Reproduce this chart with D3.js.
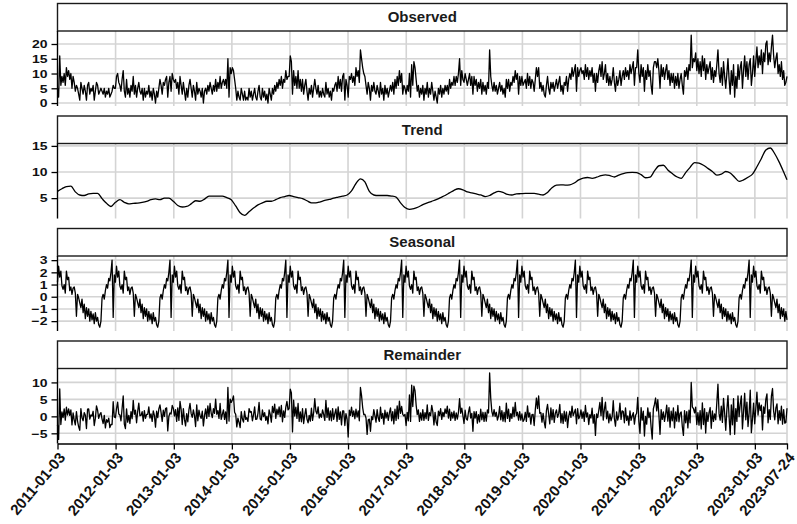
<!DOCTYPE html>
<html>
<head>
<meta charset="utf-8">
<script src="https://cdn.jsdelivr.net/npm/d3@7"></script>
<style>
  body { margin: 0; background: #fff; }
  text { font-family: "Liberation Sans", Arial, sans-serif; }
</style>
</head>
<body>
<svg id="chart" width="797" height="524"></svg>
<script>
// weekly counts, one row per year starting 2011-01-03 (last row = 2023, ends 2023-07-24)
var observed = [
  5,2,16,6,9,7,10,6,12,9,11,8,10,5,9,7,4,6,5,3,1,7,5,3,6,4,1,6,7,3,5,4,6,1,4,7,6,3,4,5,4,3,5,2,4,3,5,2,3,4,6,5,
  5,9,10,7,6,4,8,11,4,2,8,3,5,2,6,4,9,3,6,2,5,7,4,3,5,1,5,2,4,3,6,2,4,1,5,3,0,4,2,5,8,6,3,7,6,8,9,2,7,9,4,10,
  8,7,8,5,7,3,9,6,3,7,4,1,5,2,6,8,5,2,6,4,1,7,3,5,4,2,5,0,4,5,3,6,4,7,5,3,6,4,8,4,7,5,9,5,7,8,6,8,5,15,2,12,
  10,12,11,8,5,1,4,2,1,5,3,1,4,1,2,1,5,2,4,1,3,5,2,1,4,6,2,1,5,2,4,1,3,0,5,3,1,5,3,6,4,7,5,8,6,9,5,8,7,11,8,9,
  9,16,14,3,11,6,9,5,11,5,8,4,8,3,6,8,4,1,5,3,6,2,5,8,5,3,6,2,4,2,5,3,2,7,3,5,2,4,1,5,4,6,7,4,9,5,8,4,9,10,1,8,
  6,2,9,8,10,7,9,6,12,9,11,7,18,15,12,10,9,6,3,7,5,1,6,4,7,4,3,6,4,2,7,3,5,1,6,3,5,2,4,6,4,7,3,8,5,9,6,11,7,10,3,6,
  5,3,6,4,10,2,13,6,14,12,8,4,6,2,5,3,6,1,5,3,7,2,5,3,7,4,1,4,2,0,5,3,6,2,5,3,6,4,6,3,8,5,7,6,9,6,9,7,10,15,6,11,
  8,7,10,8,6,8,10,6,9,3,9,6,8,4,7,5,8,3,7,4,6,3,7,5,18,9,6,4,7,4,6,3,5,7,4,6,3,5,2,8,5,8,4,7,6,9,7,11,8,10,3,9,
  6,9,6,7,8,5,10,6,9,5,8,7,4,8,12,9,12,5,7,4,6,3,2,6,9,5,3,7,5,7,4,6,8,5,7,9,4,6,3,7,6,9,4,8,10,8,12,9,11,13,4,12,
  9,11,12,10,11,8,13,9,12,8,11,9,12,7,10,4,10,7,11,13,9,14,8,10,13,7,10,6,9,6,8,12,7,4,9,6,8,11,6,9,11,8,12,9,11,8,13,10,12,14,6,12,
  12,18,10,7,13,9,12,4,11,8,13,9,11,6,3,12,14,14,12,15,11,5,13,9,12,8,11,13,8,11,6,10,7,10,5,9,6,10,5,8,10,6,3,11,9,12,8,13,11,23,12,15,
  14,17,11,15,10,14,9,16,11,15,8,13,10,12,14,8,12,7,11,9,13,18,10,7,12,6,14,9,5,10,15,8,3,11,6,13,2,9,5,13,8,12,14,5,11,16,9,14,8,13,15,6,
  10,16,9,14,19,12,16,13,18,10,17,14,20,21,13,17,14,19,23,16,12,15,17,10,13,9,14,8,11,6,7,9
];

// trend, one value every 4 weeks (last value = 2023-07-24)
var trend = [
  6.3,6.8,7.2,7.3,6.2,5.6,5.5,5.8,5.9,5.9, 4.9,4.0,3.4,4.2,4.7,4.2,3.9,4.0,4.05,4.2,
  4.4,4.7,4.85,4.7,5.0,5.0,4.4,3.6,3.3,3.4, 3.9,4.5,4.4,4.8,5.4,5.4,5.4,5.4,5.1,4.7,
  3.5,2.2,1.7,2.4,3.1,3.7,4.1,4.4,4.4,4.7, 5.1,5.3,5.5,5.3,5.1,4.9,4.5,4.1,4.1,4.3,
  4.55,4.75,5.0,5.2,5.4,5.6,6.4,7.8,8.7,8.1, 6.3,5.6,5.5,5.5,5.5,5.4,5.2,4.1,3.2,2.85,
  3.0,3.3,3.75,4.1,4.4,4.7,5.1,5.5,6.0,6.5, 6.8,6.6,6.2,6.0,5.8,5.6,5.3,5.5,6.0,6.3,
  6.1,5.7,5.6,5.8,5.85,5.9,5.9,5.9,5.75,5.6, 6.1,7.0,7.5,7.55,7.5,7.55,7.9,8.5,8.85,8.95,
  8.8,9.0,9.3,9.45,9.3,9.05,9.4,9.7,9.9,9.95, 9.9,9.5,8.9,9.0,10.2,11.2,11.3,10.4,9.7,9.1,
  8.8,9.9,10.9,11.8,11.7,11.3,10.7,10.1,9.4,9.6, 10.1,9.8,9.0,8.2,8.5,9.0,9.6,11.0,12.6,14.2,
  14.6,13.5,11.9,10.0,8.5
];

// STL periodic seasonal: one 52-week cycle, the same every year
var seasonalCycle = [
  1.2,2.5,1.6,2.1,0.9,0.6,1.0,0.3,2.1,1.4,1.6,0.5,0.8,0.2,0.7,0.8,0.3,-1.6,0.2,-0.1,
  -0.5,-0.9,-0.2,-1.3,-0.6,-1.8,-0.9,-1.6,-1.0,-2.0,-1.2,-1.9,-1.4,-2.2,-1.3,-2.0,-1.7,-2.3,-2.5,-2.0,
  -0.1,0.2,-0.2,0.5,1.0,0.7,1.5,1.3,2.0,3.0,-1.7,1.8
];

var remainder = [
  -2.5,-6.8,8.1,-2.4,1.3,-0.4,2.2,-1.1,2.7,0.4,2.2,0.3,1.9,-2.5,1.0,-1.1,-2.5,1.4,-1.4,-3.1,-4.1,2.3,-0.4,-1.3,1.1,0.3,-3.6,2.1,2.2,-0.8,0.4,0.1,1.5,-2.7,-0.6,3.1,1.8,-0.6,0.6,1.1,-0.8,-2.1,0.3,-3.4,-1.0,-1.7,-0.5,-3.3,-2.4,-2.4,4.3,-0.2,
  -0.4,2.3,4.2,0.7,0.4,-1.3,2.3,6.0,-2.3,-3.6,2.2,-1.7,0.3,-2.1,1.4,-0.7,4.7,0.6,1.8,-1.9,1.5,3.9,0.2,0.3,1.4,-1.4,1.7,-0.6,0.6,0.6,2.8,-0.5,0.7,-1.5,1.6,0.3,-3.2,1.5,-0.4,2.2,3.4,1.1,-1.5,1.8,0,2.3,2.5,-4.3,0,1.0,0.7,3.2,
  2.4,0.1,2.0,-1.5,2.5,-1.2,4.4,2.1,-2.4,2.3,-0.9,-2.8,0.8,-1.6,1.9,3.8,0.8,-0.3,1.9,0.2,-3.0,3.4,-1.3,1.8,0.2,-0.6,1.5,-2.8,0.2,2.2,-0.6,3.1,0,3.8,0.9,-0.4,2.3,0.9,5.1,0.6,1.7,-0.6,3.8,-0.9,0.6,1.9,-0.9,1.3,-2.1,8.5,-1.4,5.1,
  4.1,4.8,6.0,1.2,0.6,-3.1,-0.5,-1.8,-3.3,1.4,-0.8,-1.7,1.5,-0.9,-0.4,-1.5,2.3,1.2,1.4,-1.3,0.4,2.8,-0.9,-0.8,0.9,4.1,-0.8,-1.1,1.9,-0.1,1.1,-1.2,0,-2.2,1.9,0.6,-1.7,2.9,1.1,3.6,-0.6,2.1,0.5,2.8,-0.1,3.2,-1.6,1.6,-0.3,2.7,4.4,1.9,
  2.3,8.0,6.9,-4.6,4.8,0.1,2.7,-0.6,3.8,-1.5,1.3,-1.6,2.3,-2.1,0.4,2.3,-0.8,-1.9,0.3,-1.4,2.4,-1.2,1.1,5.2,1.5,0.7,2.8,-0.5,0.7,-0.3,1.9,0.6,-1.2,4.7,-0.3,2.5,-1.1,1.6,-1.3,2.3,-0.9,0.8,2.2,-1.5,2.8,-0.9,1.3,-2.5,1.6,1.6,-2.7,0.8,
  -0.8,-6.1,1.8,0.3,2.7,0,1.6,-0.7,2.1,-0.2,1.6,-1.3,8.5,6.1,2.6,0.5,0.6,-0.5,-5.3,-1.0,-0.8,-4.4,-0.1,-1.0,2.0,0.2,-1.7,2.0,-0.5,-1.5,2.7,-0.6,0.9,-2.3,1.8,-0.5,1.2,-1.2,1.0,2.5,-1.3,1.4,-2.2,2.1,-1.2,3.1,-0.7,4.5,0.9,2.9,0.6,0.1,
  0.6,-2.7,1.2,-1.3,6.3,-1.5,9.2,2.9,8.9,7.6,3.4,0.5,1.9,-1.5,1.0,-1.1,2.0,-1.2,1.1,-0.7,3.4,-1.2,1.1,0.2,3.2,1.4,-2.5,1.2,-1.7,-2.7,1.5,0.2,2.3,-0.9,1.2,-0.1,2.2,0.8,3.0,-0.5,2.1,-1.2,1.2,-0.5,1.5,-1.2,1.0,-0.8,1.2,5.2,0.9,2.4,
  0.2,-2.1,1.8,-0.7,-1.1,1.2,2.8,-0.5,0.9,-4.4,1.4,-0.5,1.4,-2.0,0.5,-1.6,2.1,-1.0,1.2,-1.5,1.2,-1.4,1.9,1.0,12.8,5.3,1.4,0.1,2.0,0,1.2,-1.1,0.1,2.9,-1.0,1.7,-1.4,1.2,-1.6,3.9,-0.6,2.1,-1.5,0.8,-0.6,2.7,-0.1,4.1,0.2,1.2,-1.1,1.4,
  -1.1,0.7,-1.5,-1.0,1.2,-1.5,3.1,-0.2,1.0,-2.3,0.5,0.6,-2.7,1.9,5.4,2.3,6.0,0.9,1.1,-1.7,0.9,-1.7,-3.4,1.7,3.5,0.7,-2.2,2.5,-1.0,2.0,-1.8,0.9,1.9,-0.3,0.8,3.5,-1.9,0.8,-2.1,1.5,-1.4,1.3,-3.3,0,1.5,-0.3,3.0,0.2,1.1,2.1,-2.2,2.3,
  -0.7,0,1.9,-0.6,1.3,-1.5,3.2,-0.2,1.0,-2.4,0.5,-0.5,2.4,-2.0,0.5,-5.6,0.7,-0.4,1.8,4.1,0.2,5.6,-1.1,2.0,4.2,-0.7,1.5,-1.9,0.7,-1.3,-0.1,4.6,-0.7,-2.9,1.3,-1.1,0.3,3.9,-0.9,1.6,1.4,-1.9,2.5,-1.2,0.1,-2.6,1.6,-1.2,0.1,1.1,-2.3,0.3,
  0.9,5.6,-1.5,-5.0,2.6,-1.1,1.5,-5.8,0,-2.3,2.5,-0.4,1.2,-3.2,-6.7,2.2,3.5,5.4,1.6,4.9,0.3,-5.3,2.0,-0.9,1.3,-1.5,0.6,3.3,-1.4,2.6,-3.2,1.5,-1.3,2.5,-3.4,1.3,-1.4,3.2,-1.6,0.9,1.3,-3.0,-5.6,1.7,-1.9,1.4,-3.4,1.8,-1.9,10.0,2.8,2.3,
  1.0,2.7,-2.4,1.1,-2.6,1.7,-3.7,4.0,-2.4,2.3,-4.9,1.2,-1.5,1.1,2.6,-3.5,1.6,-1.5,0.7,-1.0,4.1,9.5,0.8,-1.1,3.0,-1.8,5.3,1.0,-4.1,1.9,6.1,-0.2,-5.4,3.4,-2.5,5.2,-5.3,2.3,-1.5,6.0,-0.1,3.6,6.0,-3.7,1.5,6.8,-1.0,4.2,-3.0,1.0,7.7,-4.8,
  -0.8,3.9,-2.2,2.3,7.1,0.4,4.0,1.7,3.3,-4.0,2.8,0.9,5.0,6.6,-1.9,2.0,-0.9,6.0,8.2,1.5,-1.0,2.4,3.7,-2.2,1.7,-1.1,3.0,-2.3,2.0,-2.0,-1.8,2.4
];

var tickLabels = ["2011-01-03","2012-01-03","2013-01-03","2014-01-03","2015-01-03","2016-01-03",
  "2017-01-03","2018-01-03","2019-01-03","2020-01-03","2021-01-03","2022-01-03","2023-01-03","2023-07-24"];

var startDate = new Date(Date.UTC(2011, 0, 3));
var endDate = new Date(Date.UTC(2023, 6, 24));
var parseDay = d3.utcParse("%Y-%m-%d");
var tickDates = tickLabels.map(parseDay);

var weekDates = observed.map(function(v, i) { return d3.utcDay.offset(startDate, 7 * i); });
var trendDates = trend.map(function(v, k) {
  return k === trend.length - 1 ? endDate : d3.utcDay.offset(startDate, 28 * k);
});
var seasonal = weekDates.map(function(d, i) { return seasonalCycle[i % seasonalCycle.length]; });

var panels = [
  { title: "Observed",  values: observed,  dates: weekDates,  domain: [-1.0, 24.4],  ticks: [0, 5, 10, 15, 20] },
  { title: "Trend",     values: trend,     dates: trendDates, domain: [1.1, 15.46],  ticks: [5, 10, 15], curve: d3.curveMonotoneX },
  { title: "Seasonal",  values: seasonal,  dates: weekDates,  domain: [-2.81, 3.34], ticks: [-2, -1, 0, 1, 2, 3] },
  { title: "Remainder", values: remainder, dates: weekDates,  domain: [-8.0, 14.1],  ticks: [-5, 0, 5, 10] }
];

var svg = d3.select("#chart");
var left = 57.5, right = 787;
var top0 = 3.5, stripH = 27.5, plotH = 75, step = 112.5;

var x = d3.scaleUtc().domain([startDate, endDate]).range([left, right]);

panels.forEach(function(p, n) {
  var top = top0 + n * step;
  var y0 = top + stripH, y1 = y0 + plotH;
  var y = d3.scaleLinear().domain(p.domain).range([y1, y0]);
  var g = svg.append("g");

  // grid
  g.selectAll("line.vg").data(tickDates).enter().append("line")
    .attr("x1", function(d) { return x(d); }).attr("x2", function(d) { return x(d); })
    .attr("y1", y0).attr("y2", y1)
    .attr("stroke", "#d4d4d4").attr("stroke-width", 1.6);
  g.selectAll("line.hg").data(p.ticks).enter().append("line")
    .attr("x1", left).attr("x2", right)
    .attr("y1", function(d) { return y(d); }).attr("y2", function(d) { return y(d); })
    .attr("stroke", "#d4d4d4").attr("stroke-width", 1.6);

  // series
  var line = d3.line()
    .x(function(d, i) { return x(p.dates[i]); })
    .y(function(d) { return y(d); });
  if (p.curve) line.curve(p.curve);
  g.append("path").datum(p.values)
    .attr("d", line)
    .attr("fill", "none").attr("stroke", "#000").attr("stroke-width", 1.3)
    .attr("stroke-linejoin", "round");

  // strip
  g.append("rect")
    .attr("x", left).attr("y", top).attr("width", right - left).attr("height", stripH)
    .attr("fill", "#fff").attr("stroke", "#1a1a1a").attr("stroke-width", 1.4);
  g.append("text")
    .attr("x", (left + right) / 2).attr("y", top + stripH / 2 + 5)
    .attr("text-anchor", "middle")
    .attr("font-size", "15px").attr("font-weight", "bold").attr("fill", "#1a1a1a")
    .text(p.title);

  // y axis
  var ya = g.append("g").attr("transform", "translate(" + left + ",0)")
    .call(d3.axisLeft(y).tickValues(p.ticks).tickSize(6).tickPadding(4).tickSizeOuter(0)
      .tickFormat(d3.format("d")));
  ya.select(".domain").attr("stroke", "#000").attr("stroke-width", 1.3)
    .attr("d", "M0," + y1 + "V" + y0);
  ya.selectAll(".tick line").attr("stroke", "#000").attr("stroke-width", 1.3);
  ya.selectAll(".tick text")
    .attr("font-family", "Liberation Sans, Arial, sans-serif")
    .attr("font-size", "14px").attr("font-weight", "bold").attr("fill", "#111")
    .attr("transform", "scale(1,0.84)");

  // bottom axis on last panel
  if (n === panels.length - 1) {
    var xa = g.append("g").attr("transform", "translate(0," + y1 + ")")
      .call(d3.axisBottom(x).tickValues(tickDates).tickSize(6).tickSizeOuter(0)
        .tickFormat(d3.utcFormat("%Y-%m-%d")));
    xa.select(".domain").attr("stroke", "#000").attr("stroke-width", 1.4);
    xa.selectAll(".tick line").attr("stroke", "#000").attr("stroke-width", 1.3);
    xa.selectAll(".tick text")
      .attr("font-family", "Liberation Sans, Arial, sans-serif")
      .attr("font-size", "15px").attr("font-weight", "bold").attr("fill", "#111")
      .attr("text-anchor", "end")
      .attr("x", 0).attr("y", 0).attr("dy", "0.35em")
      .attr("transform", "translate(4,11) rotate(-50)");
  }
});
</script>
</body>
</html>
